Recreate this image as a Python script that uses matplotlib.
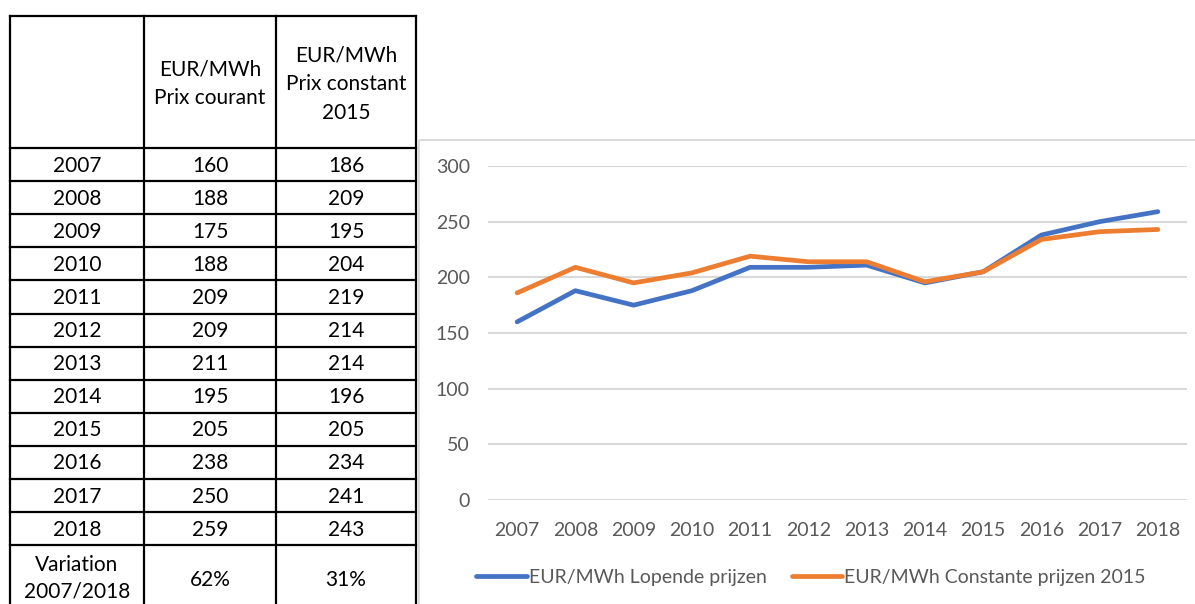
import matplotlib.pyplot as plt
import matplotlib.patches as mpatches

plt.rcParams['font.family'] = ['Lato', 'DejaVu Sans']

years = ['2007', '2008', '2009', '2010', '2011', '2012', '2013', '2014', '2015', '2016', '2017', '2018']
prix_courant = [160, 188, 175, 188, 209, 209, 211, 195, 205, 238, 250, 259]
prix_constant = [186, 209, 195, 204, 219, 214, 214, 196, 205, 234, 241, 243]
variation = ['62%', '31%']
headers = ['', 'EUR/MWh\nPrix courant', 'EUR/MWh\nPrix constant\n2015']
legend_labels = ['EUR/MWh Lopende prijzen', 'EUR/MWh Constante prijzen 2015']

W, H = 1195, 604
fig = plt.figure(figsize=(W / 100, H / 100), dpi=100)

# --- table on the left, drawn in pixel coordinates ---
tab = fig.add_axes([0, 0, 1, 1])
tab.set_xlim(0, W)
tab.set_ylim(H, 0)
tab.axis('off')

cols = [10, 144, 276, 416]
top, head_bot, row_h = 16, 148, 33.1
rows = [top, head_bot] + [head_bot + (i + 1) * row_h for i in range(len(years))]
last = rows[-1]
bottom = last + 70
fs = 15

for y in rows:
    tab.plot([cols[0], cols[-1]], [y, y], color='black', lw=1.6, solid_capstyle='projecting')
for x in cols:
    tab.plot([x, x], [top, bottom], color='black', lw=1.6)

for j, h in enumerate(headers):
    tab.text((cols[j] + cols[j + 1]) / 2, (top + head_bot) / 2 + 2, h, ha='center', va='center',
             fontsize=fs, linespacing=1.55)

for i, yr in enumerate(years):
    yc = head_bot + (i + 0.5) * row_h + 1
    vals = [yr, str(prix_courant[i]), str(prix_constant[i])]
    for j, v in enumerate(vals):
        tab.text((cols[j] + cols[j + 1]) / 2, yc, v, ha='center', va='center', fontsize=fs)

yc = last + 35
tab.text((cols[0] + cols[1]) / 2, yc - 2, 'Variation\n2007/2018', ha='center', va='center',
         fontsize=fs, linespacing=1.4)
tab.text((cols[1] + cols[2]) / 2, yc, variation[0], ha='center', va='center', fontsize=fs)
tab.text((cols[2] + cols[3]) / 2, yc, variation[1], ha='center', va='center', fontsize=fs)

# chart area border
tab.add_patch(mpatches.Rectangle((419, 140), 800, 500, fill=False, ec='#d9d9d9', lw=1.4))

# --- line chart on the right ---
ax = fig.add_axes([488 / W, 1 - 500 / H, (1187 - 488) / W, (500 - 166) / H])
x = range(len(years))
ax.plot(x, prix_courant, color='#4472C4', lw=3.4, solid_capstyle='round', label=legend_labels[0])
ax.plot(x, prix_constant, color='#ED7D31', lw=3.4, solid_capstyle='round', label=legend_labels[1])
ax.set_xlim(-0.5, len(years) - 0.5)
ax.set_ylim(0, 300)
ax.set_yticks(range(0, 301, 50))
ax.set_xticks(list(x))
ax.set_xticklabels(years)
ax.grid(axis='y', color='#d9d9d9', lw=1.5)
ax.set_axisbelow(True)
for s in ax.spines.values():
    s.set_visible(False)
ax.tick_params(length=0, labelsize=14, colors='#595959', pad=16)
ax.tick_params(axis='y', pad=13)
ax.legend(loc='upper center', bbox_to_anchor=(0.462, -0.155), ncol=2, frameon=False,
          fontsize=14, labelcolor='#595959', handlelength=2.6, handletextpad=0.1,
          columnspacing=1.3)

fig.savefig('out.png', dpi=100)
